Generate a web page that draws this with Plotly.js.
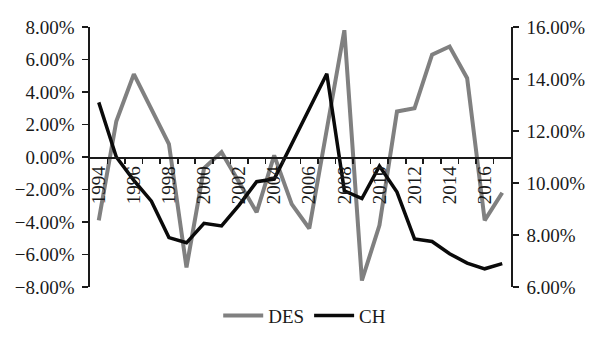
<!DOCTYPE html>
<html>
<head>
<meta charset="utf-8">
<script src="https://cdn.plot.ly/plotly-3.0.1.min.js"></script>
<style>
  html, body { margin: 0; padding: 0; background: #fff; }
  #chart { width: 603px; height: 347px; }
</style>
</head>
<body>
<div id="chart"></div>
<script>
// Years (categories)
const years = [1994,1995,1996,1997,1998,1999,2000,2001,2002,2003,2004,2005,
               2006,2007,2008,2009,2010,2011,2012,2013,2014,2015,2016,2017];
// DES series (left axis, %)
const desValues = [-3.9, 2.2, 5.1, 3.0, 0.8, -6.8, -0.7, 0.3, -1.5, -3.4, 0.1, -2.9,
                   -4.4, 1.6, 7.8, -7.6, -4.2, 2.8, 3.0, 6.3, 6.8, 4.85, -3.9, -2.2];
// CH series (right axis, %)
const chValues = [13.1, 11.0, 10.1, 9.3, 7.9, 7.7, 8.45, 8.35, 9.15, 10.05, 10.15, 11.5,
                  12.85, 14.2, 9.7, 9.4, 10.65, 9.65, 7.85, 7.75, 7.28, 6.92, 6.7, 6.9];
// Tick labels on the x axis
const xTickYears = [1994,1996,1998,2000,2002,2004,2006,2008,2010,2012,2014,2016];
const xTickLabels = xTickYears.map(String);
const xBoundaries = years.slice(0, -1).map(y => y + 0.5);

const font = 'Liberation Serif, Times New Roman, serif';
const axisColor = '#1a1a1a';

const traces = [
  {
    x: years, y: desValues, name: 'DES', type: 'scatter', mode: 'lines',
    line: { color: '#808080', width: 4 }, yaxis: 'y'
  },
  {
    x: years, y: chValues, name: 'CH', type: 'scatter', mode: 'lines',
    line: { color: '#0a0a0a', width: 3.5 }, yaxis: 'y2'
  }
];

const layout = {
  width: 603, height: 347,
  margin: { l: 90, r: 92, t: 27, b: 53 },
  paper_bgcolor: '#fff', plot_bgcolor: '#fff',
  font: { family: font, size: 19, color: axisColor },
  showlegend: true,
  legend: {
    orientation: 'h', x: 0.51, xanchor: 'center', y: -0.11, yanchor: 'middle',
    font: { family: font, size: 19, color: axisColor }, itemwidth: 40
  },
  xaxis: {
    type: 'linear', range: [1993.5, 2017.5],
    anchor: 'free', position: 0.5,
    showgrid: false, zeroline: false,
    showline: true, linecolor: axisColor, linewidth: 1.6,
    tickmode: 'array', tickvals: xTickYears, ticktext: xTickLabels,
    ticks: '', tickangle: -90,
    tickfont: { family: font, size: 19, color: axisColor },
    minor: { tickmode: 'array', tickvals: xBoundaries, ticks: 'outside', ticklen: 5, tickwidth: 1.6, tickcolor: axisColor, showgrid: false },
    automargin: false, fixedrange: true
  },
  yaxis: {
    range: [-8, 8], dtick: 2, tick0: 0,
    tickformat: '.2f', ticksuffix: '%',
    showgrid: false, zeroline: false,
    showline: true, linecolor: axisColor, linewidth: 1.6,
    ticks: 'outside', ticklen: 6, tickwidth: 1.6, tickcolor: axisColor,
    ticklabelstandoff: 4,
    tickfont: { family: font, size: 19, color: axisColor },
    automargin: false
  },
  yaxis2: {
    range: [6, 16], dtick: 2, tick0: 0,
    tickformat: '.2f', ticksuffix: '%',
    overlaying: 'y', side: 'right', anchor: 'x',
    showgrid: false, zeroline: false,
    showline: true, linecolor: axisColor, linewidth: 1.6,
    ticks: 'outside', ticklen: 6, tickwidth: 1.6, tickcolor: axisColor,
    ticklabelstandoff: 4,
    tickfont: { family: font, size: 19, color: axisColor },
    automargin: false
  }
};

Plotly.newPlot('chart', traces, layout, { staticPlot: true, displayModeBar: false });
</script>
</body>
</html>
